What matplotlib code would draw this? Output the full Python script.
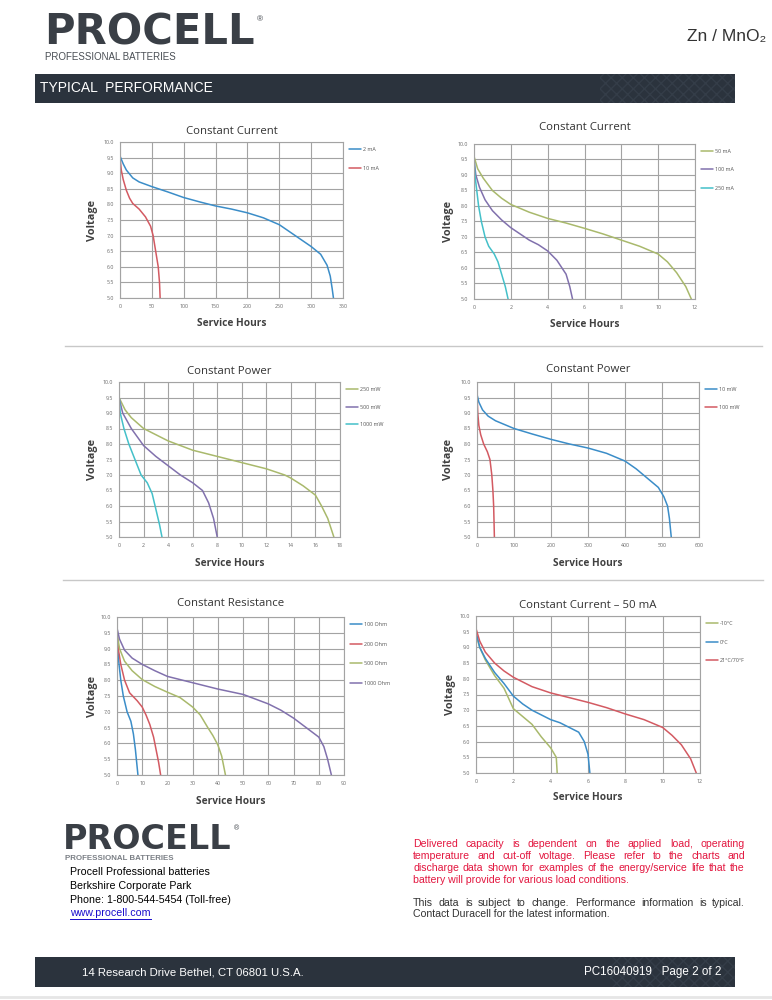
import matplotlib
matplotlib.use("Agg")
import matplotlib.pyplot as plt
from matplotlib.patches import Rectangle
from matplotlib.lines import Line2D

plt.rcParams['font.family'] = ['Liberation Sans', 'DejaVu Sans']

# ---------------- data ----------------
cc1_2mA_x = [0, 5, 10, 20, 30, 50, 75, 100, 125, 150, 175, 200, 225, 250, 275, 300, 315, 325, 330, 333, 335]
cc1_2mA_y = [9.55, 9.3, 9.1, 8.85, 8.72, 8.57, 8.4, 8.22, 8.08, 7.95, 7.85, 7.73, 7.57, 7.35, 7.0, 6.65, 6.4, 6.05, 5.7, 5.3, 5.0]
cc1_10mA_x = [0, 2, 5, 10, 15, 20, 30, 40, 48, 52, 56, 60, 62, 63]
cc1_10mA_y = [9.5, 9.1, 8.8, 8.45, 8.2, 8.03, 7.85, 7.6, 7.3, 7.0, 6.5, 6.0, 5.5, 5.0]

cc2_50mA_x = [0, 0.2, 0.5, 1, 1.5, 2, 3, 4, 5, 6, 7, 8, 9, 10, 10.5, 11, 11.5, 11.8]
cc2_50mA_y = [9.6, 9.2, 8.9, 8.5, 8.25, 8.05, 7.8, 7.6, 7.45, 7.28, 7.1, 6.9, 6.7, 6.45, 6.2, 5.85, 5.4, 5.0]
cc2_100mA_x = [0, 0.1, 0.3, 0.6, 1, 1.5, 2, 2.5, 3, 3.5, 4, 4.5, 5, 5.2, 5.35]
cc2_100mA_y = [9.5, 9.0, 8.6, 8.2, 7.85, 7.55, 7.3, 7.1, 6.9, 6.75, 6.55, 6.25, 5.8, 5.4, 5.0]
cc2_250mA_x = [0, 0.05, 0.15, 0.25, 0.4, 0.6, 0.8, 1.1, 1.3, 1.5, 1.7, 1.85]
cc2_250mA_y = [9.6, 9.0, 8.5, 8.0, 7.5, 7.0, 6.7, 6.45, 6.2, 5.8, 5.4, 5.0]

cp1_250mW_x = [0, 0.5, 1, 2, 3, 4, 5, 6, 8, 10, 12, 13.5, 14, 15, 16, 16.5, 17, 17.5]
cp1_250mW_y = [9.5, 9.1, 8.85, 8.5, 8.3, 8.1, 7.95, 7.8, 7.6, 7.4, 7.2, 7.0, 6.9, 6.65, 6.35, 6.0, 5.6, 5.0]
cp1_500mW_x = [0, 0.3, 1, 2, 3, 4, 5, 6, 6.8, 7.3, 7.7, 8]
cp1_500mW_y = [9.5, 9.0, 8.5, 7.95, 7.6, 7.3, 7.0, 6.75, 6.5, 6.1, 5.6, 5.0]
cp1_1000mW_x = [0, 0.1, 0.4, 0.8, 1.3, 1.8, 2.3, 2.7, 3.0, 3.3, 3.5]
cp1_1000mW_y = [9.6, 9.0, 8.5, 8.0, 7.5, 7.0, 6.75, 6.4, 5.9, 5.4, 5.0]

cp2_10mW_x = [0, 5, 15, 30, 50, 100, 150, 200, 250, 300, 350, 400, 430, 460, 490, 505, 515, 520, 525]
cp2_10mW_y = [9.6, 9.35, 9.1, 8.9, 8.75, 8.5, 8.32, 8.15, 8.0, 7.87, 7.7, 7.45, 7.2, 6.9, 6.6, 6.3, 6.0, 5.6, 5.0]
cp2_100mW_x = [0, 2, 5, 10, 18, 28, 35, 40, 43, 45, 46, 47]
cp2_100mW_y = [9.6, 9.0, 8.6, 8.3, 8.0, 7.75, 7.5, 7.0, 6.5, 6.0, 5.5, 5.0]

cr_100_x = [0, 0.3, 0.8, 1.5, 2.5, 4, 5.5, 6.5, 7.3, 7.8, 8.3]
cr_100_y = [9.5, 9.0, 8.5, 8.0, 7.5, 7.0, 6.7, 6.3, 5.8, 5.4, 5.0]
cr_200_x = [0, 0.5, 1.5, 3, 5, 8, 10, 11.5, 13, 14.5, 15.5, 16.5, 17.3]
cr_200_y = [9.5, 9.0, 8.5, 8.0, 7.6, 7.35, 7.15, 6.9, 6.6, 6.2, 5.8, 5.4, 5.0]
cr_500_x = [0, 1, 3, 6, 10, 15, 20, 25, 30, 33, 36, 38, 40, 41.5, 43]
cr_500_y = [9.5, 9.0, 8.6, 8.3, 8.02, 7.8, 7.62, 7.45, 7.15, 6.9, 6.5, 6.25, 5.95, 5.6, 5.0]
cr_1000_x = [0, 1, 3, 6, 10, 15, 20, 25, 30, 40, 50, 60, 65, 70, 75, 80, 82, 83.5, 85]
cr_1000_y = [9.65, 9.3, 8.95, 8.7, 8.5, 8.3, 8.12, 8.02, 7.92, 7.72, 7.55, 7.25, 7.05, 6.8, 6.5, 6.2, 5.9, 5.5, 5.0]

ct_m10_x = [0, 0.2, 0.5, 1, 1.5, 2, 2.5, 3, 3.5, 4, 4.3, 4.35]
ct_m10_y = [9.4, 9.0, 8.6, 8.1, 7.7, 7.05, 6.8, 6.55, 6.15, 5.8, 5.5, 5.0]
ct_0_x = [0, 0.2, 0.5, 1, 1.5, 2, 2.5, 3, 3.5, 4, 4.5, 5, 5.5, 5.8, 6.0, 6.1]
ct_0_y = [9.5, 9.0, 8.65, 8.2, 7.85, 7.45, 7.2, 7.0, 6.85, 6.7, 6.6, 6.45, 6.3, 6.0, 5.6, 5.0]
ct_21_x = [0, 0.2, 0.5, 1, 1.5, 2, 3, 4, 5, 6, 7, 8, 9, 10, 10.5, 11, 11.5, 11.8]
ct_21_y = [9.6, 9.2, 8.85, 8.5, 8.25, 8.05, 7.75, 7.55, 7.4, 7.25, 7.08, 6.88, 6.7, 6.45, 6.2, 5.9, 5.45, 5.0]

y_ticks = [5.0, 5.5, 6.0, 6.5, 7.0, 7.5, 8.0, 8.5, 9.0, 9.5, 10.0]

BLUE = '#3b8dc8'
RED = '#d35a62'
GREEN = '#a9b96c'
PURPLE = '#8171ad'
CYAN = '#44c0c9'

charts = [
    dict(title="Constant Current", box=(120, 142, 343, 298), ty=131, xly=324, ylx=92,
         xticks=list(range(0, 351, 50)), xmax=350, spacing=19,
         series=[(cc1_2mA_x, cc1_2mA_y, BLUE, "2 mA"), (cc1_10mA_x, cc1_10mA_y, RED, "10 mA")]),
    dict(title="Constant Current", box=(474, 144, 695, 299), ty=128, xly=325, ylx=449,
         xticks=list(range(0, 13, 2)), xmax=12, spacing=18.7,
         series=[(cc2_50mA_x, cc2_50mA_y, GREEN, "50 mA"), (cc2_100mA_x, cc2_100mA_y, PURPLE, "100 mA"),
                 (cc2_250mA_x, cc2_250mA_y, CYAN, "250 mA")]),
    dict(title="Constant Power", box=(119, 382, 340, 537), ty=372, xly=564, ylx=92,
         xticks=list(range(0, 19, 2)), xmax=18, spacing=18,
         series=[(cp1_250mW_x, cp1_250mW_y, GREEN, "250 mW"), (cp1_500mW_x, cp1_500mW_y, PURPLE, "500 mW"),
                 (cp1_1000mW_x, cp1_1000mW_y, CYAN, "1000 mW")]),
    dict(title="Constant Power", box=(477, 382, 699, 537), ty=370, xly=564, ylx=449,
         xticks=list(range(0, 601, 100)), xmax=600, spacing=18,
         series=[(cp2_10mW_x, cp2_10mW_y, BLUE, "10 mW"), (cp2_100mW_x, cp2_100mW_y, RED, "100 mW")]),
    dict(title="Constant Resistance", box=(117, 617, 344, 775), ty=603, xly=801, ylx=92,
         xticks=list(range(0, 91, 10)), xmax=90, spacing=20,
         series=[(cr_100_x, cr_100_y, BLUE, "100 Ohm"), (cr_200_x, cr_200_y, RED, "200 Ohm"),
                 (cr_500_x, cr_500_y, GREEN, "500 Ohm"), (cr_1000_x, cr_1000_y, PURPLE, "1000 Ohm")]),
    dict(title="Constant Current \u2013 50 mA", box=(476, 616, 700, 773), ty=605, xly=797, ylx=451,
         xticks=list(range(0, 13, 2)), xmax=12, spacing=19,
         series=[(ct_m10_x, ct_m10_y, GREEN, "-10\u00b0C"), (ct_0_x, ct_0_y, BLUE, "0\u00b0C"),
                 (ct_21_x, ct_21_y, RED, "21\u00b0C/70\u00b0F")]),
]

W, H = 772, 1000
fig = plt.figure(figsize=(W / 100, H / 100), dpi=100)
fig.patch.set_facecolor('white')

# overlay axes in pixel coordinates
ov = fig.add_axes([0, 0, 1, 1])
ov.set_xlim(0, W)
ov.set_ylim(H, 0)
ov.axis('off')

DARK = '#2b333d'
LOGO = '#3a3f46'
LOGO_FONT = ['DejaVu Sans']
NARROW = ['Liberation Sans Narrow', 'Liberation Sans']
# header
ov.text(44, 44.8, "PROCELL", fontsize=30, fontweight='bold', color=LOGO, ha='left', va='baseline',
        family=LOGO_FONT)
ov.text(257, 19.8, "\u00ae", fontsize=6, color=LOGO, ha='left', va='center')
ov.text(45, 56.8, "PROFESSIONAL BATTERIES", fontsize=7, color='#4a4f55', ha='left', va='center')
ov.text(766, 37, "Zn / MnO\u2082", fontsize=12.5, color='#333333', ha='right', va='center')

ov.add_patch(Rectangle((35, 74), 700, 29, facecolor=DARK, edgecolor='none'))
ov.add_patch(Rectangle((600, 74), 135, 29, facecolor='none', edgecolor='#343d48', hatch='xxx', linewidth=0))
ov.text(40, 88.3, "TYPICAL  PERFORMANCE", fontsize=10, color='white', ha='left', va='center')

# separators
ov.add_line(Line2D([65, 762], [346, 346], color='#c8c8c8', lw=1))
ov.add_line(Line2D([63, 763], [580, 580], color='#c8c8c8', lw=1))

CHART_FONT = ['Open Sans', 'DejaVu Sans']

for c in charts:
    l, t, r, b = c['box']
    ax = fig.add_axes([l / W, 1 - b / H, (r - l) / W, (b - t) / H])
    for xs, ys, col, lab in c['series']:
        ax.plot(xs, ys, color=col, lw=1.1, label=lab, solid_capstyle='round', solid_joinstyle='round')
    ax.set_xlim(0, c['xmax'])
    ax.set_ylim(5, 10)
    ax.set_xticks(c['xticks'])
    ax.set_yticks(y_ticks)
    ax.set_yticklabels([f"{v:.1f}" for v in y_ticks])
    ax.tick_params(length=0, labelsize=3.8, labelcolor='#666666', pad=4)
    for lbl in ax.get_xticklabels() + ax.get_yticklabels():
        lbl.set_family(CHART_FONT)
    ax.grid(True, color='#a3a3a3', lw=0.8)
    ax.set_axisbelow(True)
    for s in ax.spines.values():
        s.set_color('#a3a3a3')
        s.set_linewidth(0.8)
    aw, ah = r - l, b - t
    ax.set_title(c['title'], fontsize=8.2, color='#333333', family=CHART_FONT,
                 y=(b - c['ty']) / ah, va='center', pad=0)
    ax.set_xlabel("Service Hours", fontsize=7.3, fontweight='bold', color='#404040', family=CHART_FONT)
    ax.xaxis.set_label_coords(0.5, (b - c['xly']) / ah)
    ax.xaxis.label.set_va('center')
    ax.set_ylabel("Voltage", fontsize=7.8, fontweight='bold', color='#404040', family=CHART_FONT)
    ax.yaxis.set_label_coords((c['ylx'] - l) / aw, 0.5)
    ax.yaxis.label.set_va('center')
    fs = 3.9
    fpx = fs * 100 / 72
    leg = ax.legend(loc='upper left', bbox_to_anchor=(1 + 6 / aw, 1 - 5 / ah), frameon=False,
                    labelspacing=(c['spacing'] - fpx) / fpx, handlelength=2.3,
                    handletextpad=0.3, borderaxespad=0, borderpad=0,
                    prop={'family': CHART_FONT, 'size': fs})
    for txt in leg.get_texts():
        txt.set_color('#555555')

# bottom left block
ov.text(63, 849.3, "PROCELL", fontsize=24, fontweight='bold', color=LOGO, ha='left', va='baseline',
        family=LOGO_FONT)
ov.text(234, 828.8, "\u00ae", fontsize=5, color=LOGO, ha='left', va='center')
ov.text(65, 858.2, "PROFESSIONAL BATTERIES", fontsize=5.7, fontweight='bold', color='#7a7f85', ha='left', va='center')
addr = ["Procell Professional batteries", "Berkshire Corporate Park", "Phone: 1-800-544-5454 (Toll-free)"]
for i, s in enumerate(addr):
    ov.text(70, 872.2 + i * 14, s, fontsize=7.7, color='black', ha='left', va='center')
link = ov.text(70, 913.2, "www.procell.com", fontsize=7.7, color='#1a0dcc', ha='left', va='center')

renderer = fig.canvas.get_renderer()
lw_px = link.get_window_extent(renderer).width
ov.add_line(Line2D([70, 70 + lw_px], [918.5, 918.5], color='#1a0dcc', lw=0.7))


def justified(lines, x0, x1, y0, dy, **kw):
    for i, line in enumerate(lines):
        y = y0 + i * dy
        words = line.split()
        if i == len(lines) - 1:
            ov.text(x0, y, line, ha='left', va='baseline', **kw)
            continue
        widths = []
        for w in words:
            tt = ov.text(0, 0, w, **kw)
            widths.append(tt.get_window_extent(renderer).width)
            tt.remove()
        gap = (x1 - x0 - sum(widths)) / (len(words) - 1)
        x = x0
        for w, wd in zip(words, widths):
            ov.text(x, y, w, ha='left', va='baseline', **kw)
            x += wd + gap


red_lines = ["Delivered capacity is dependent on the applied load, operating",
             "temperature and cut-off voltage. Please refer to the charts and",
             "discharge data shown for examples of the energy/service life  that the",
             "battery will provide for various load conditions."]
black_lines = ["This data is subject to change. Performance information is typical.",
               "Contact Duracell for the latest information."]
justified(red_lines, 413, 745, 846.75, 12, fontsize=7.6, color='#e3163f')
justified(black_lines, 413, 745, 905.75, 11.5, fontsize=7.6, color='#333333')

# footer
ov.add_patch(Rectangle((35, 957), 700, 30, facecolor=DARK, edgecolor='none'))
ov.add_patch(Rectangle((610, 957), 125, 30, facecolor='none', edgecolor='#343d48', hatch='xxx', linewidth=0))
ov.text(82, 972.2, "14 Research Drive Bethel, CT 06801 U.S.A.", fontsize=8.2, color='white',
        ha='left', va='center', family=NARROW)
ov.text(721, 972.2, "PC16040919   Page 2 of 2", fontsize=8.4, color='white',
        ha='right', va='center', family=NARROW)
ov.add_line(Line2D([0, W], [997, 997], color='#e6e6e6', lw=2))

fig.savefig("out.png", dpi=100, facecolor='white')
